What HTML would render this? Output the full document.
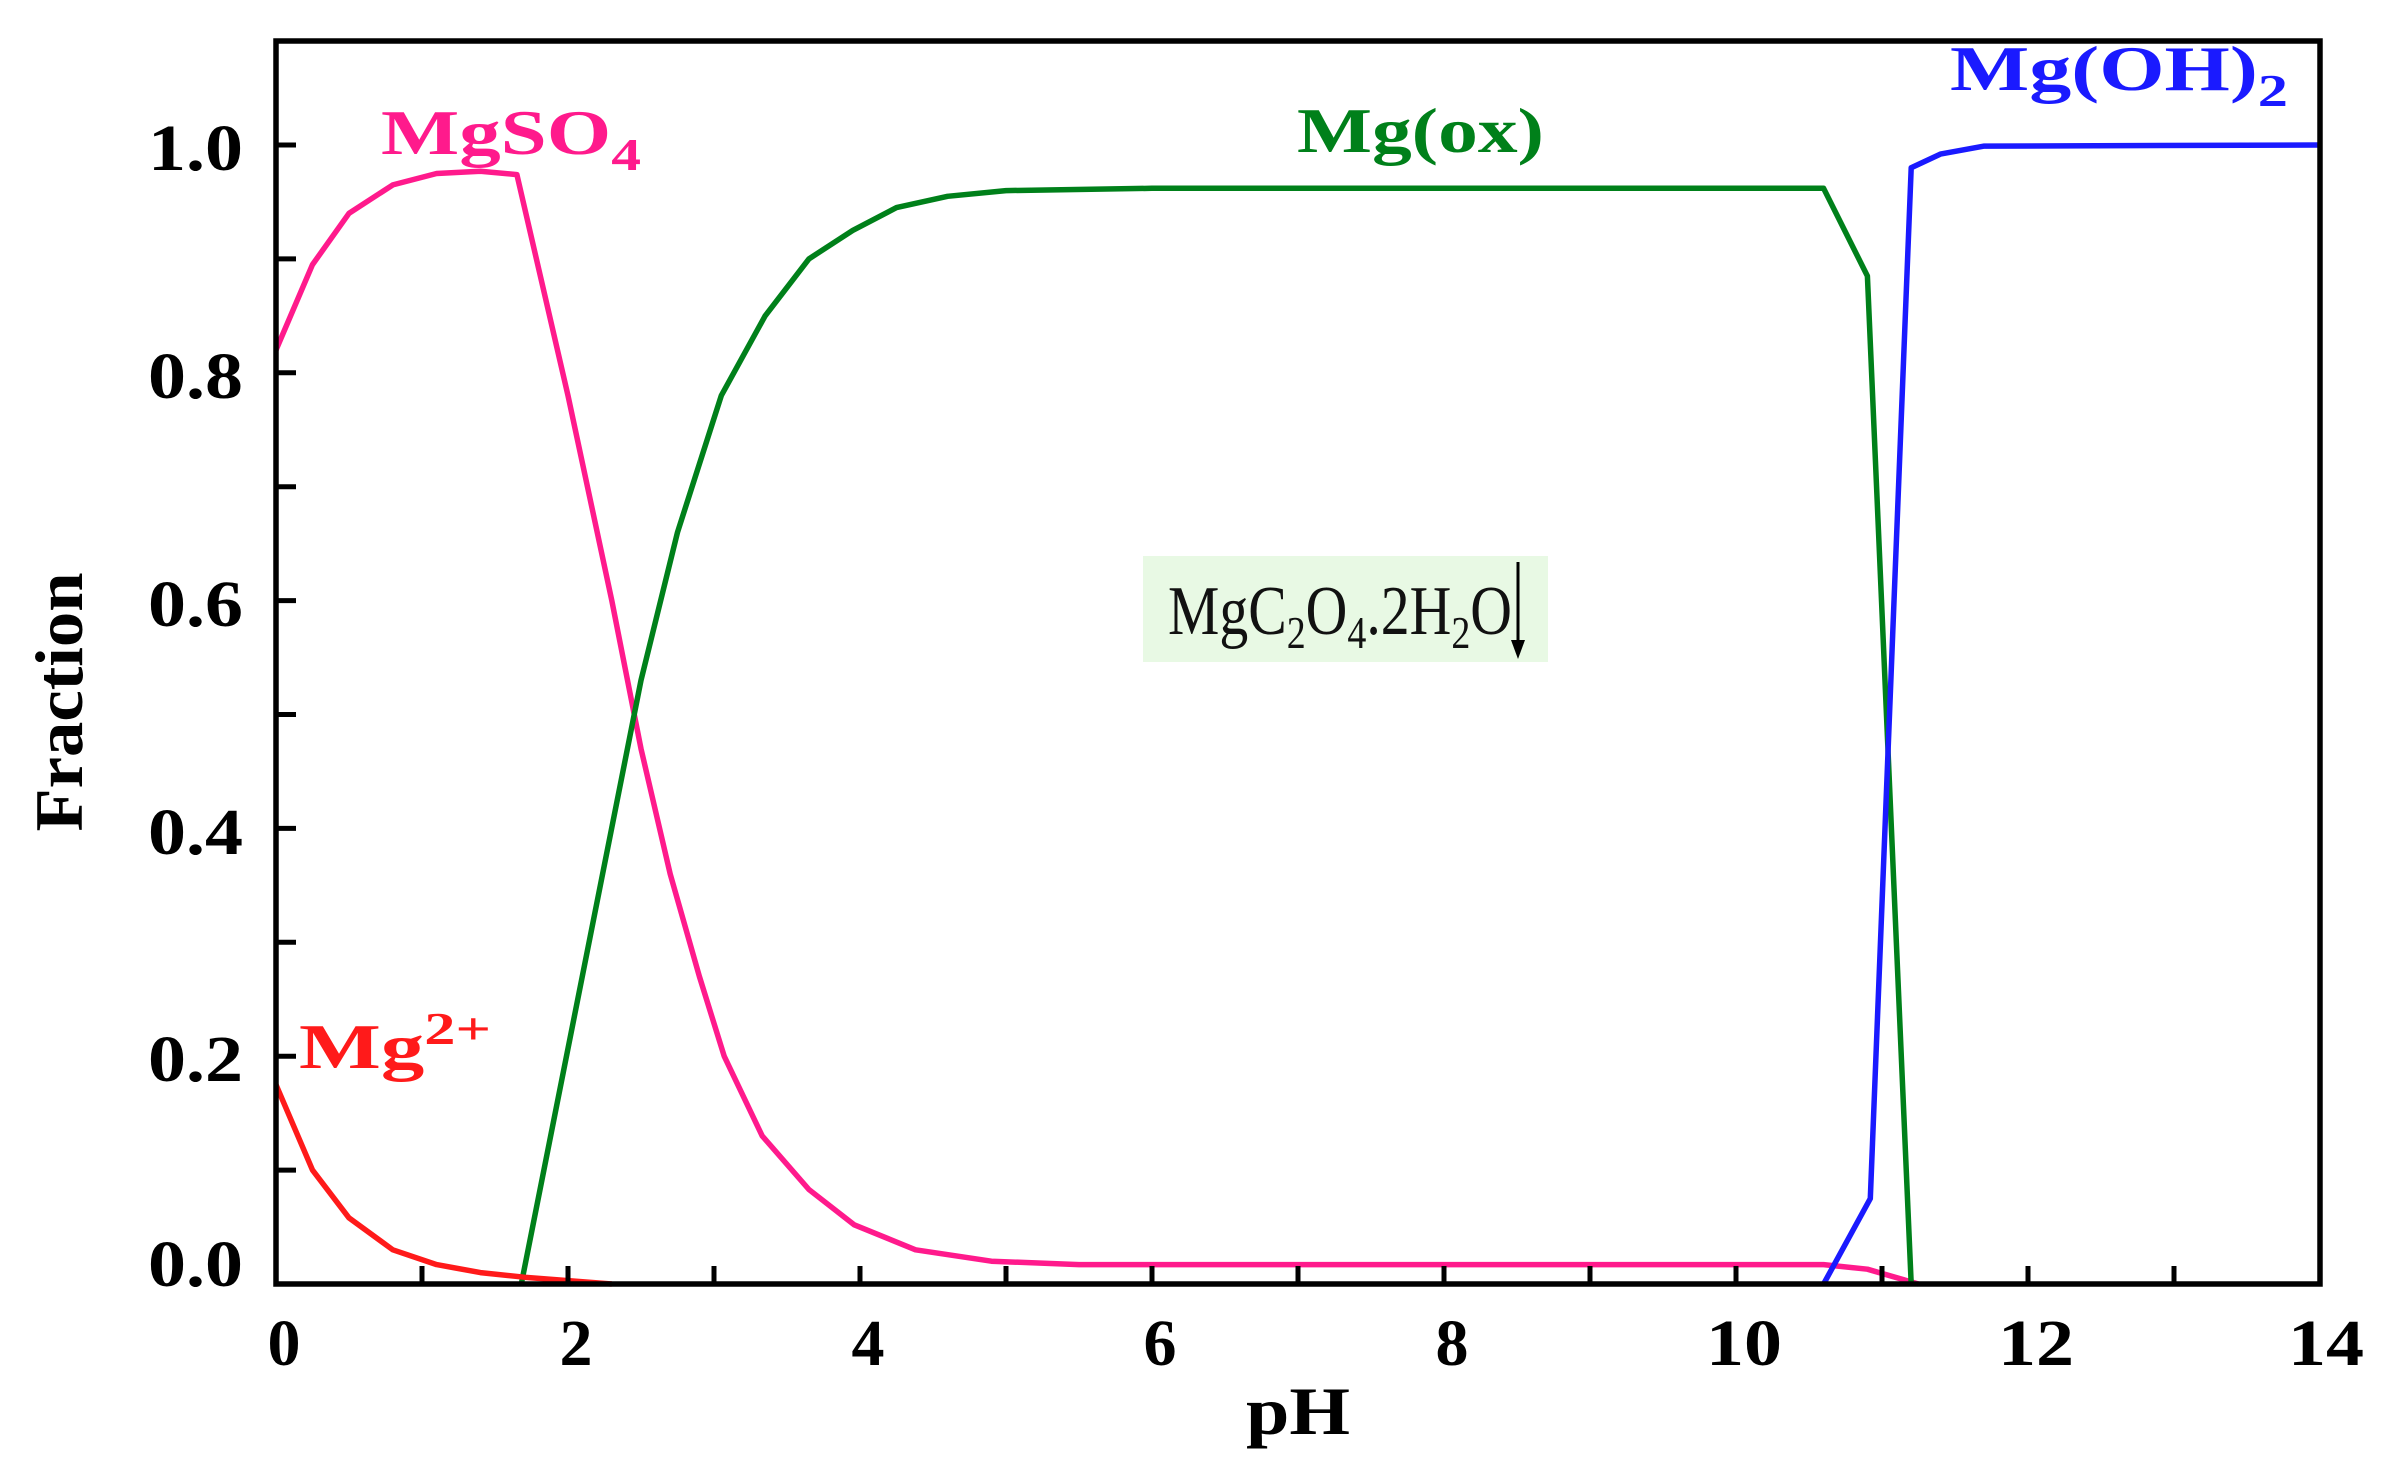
<!DOCTYPE html>
<html><head><meta charset="utf-8"><style>html,body{margin:0;padding:0;background:#fff}svg{display:block}</style></head>
<body>
<svg width="2392" height="1472" viewBox="0 0 2392 1472" xmlns="http://www.w3.org/2000/svg" font-family="'Liberation Serif', serif">
<rect width="2392" height="1472" fill="#fff"/>
<!-- box -->
<rect x="1143" y="556" width="405" height="106" fill="#e8f9e4"/>
<text x="1168" y="634" font-size="70" fill="#111" textLength="344" lengthAdjust="spacingAndGlyphs">MgC<tspan font-size="46" dy="14">2</tspan><tspan dy="-14">O</tspan><tspan font-size="46" dy="14">4</tspan><tspan dy="-14">.2H</tspan><tspan font-size="46" dy="14">2</tspan><tspan dy="-14">O</tspan></text>
<line x1="1518" y1="562" x2="1518" y2="645" stroke="#000" stroke-width="3"/>
<polygon points="1511,640 1525,640 1518,659" fill="#000"/>
<!-- curves -->
<g fill="none" stroke-width="5.5" stroke-linejoin="round">
<polyline id="so4" stroke="#ff1a8c" points=""/>
<polyline id="ox" stroke="#00801a" points=""/>
<polyline id="oh" stroke="#1a1aff" points=""/>
<polyline id="mg" stroke="#ff1a1a" points=""/>
</g>
<!-- axes -->
<rect x="276" y="41" width="2044" height="1243" fill="none" stroke="#000" stroke-width="5.5"/>
<g id="ticks" stroke="#000" stroke-width="5"></g>
<g font-weight="bold" font-size="66" fill="#000">
<text x="148" y="170" textLength="95" lengthAdjust="spacingAndGlyphs">1.0</text>
<text x="148" y="398" textLength="95" lengthAdjust="spacingAndGlyphs">0.8</text>
<text x="148" y="626" textLength="95" lengthAdjust="spacingAndGlyphs">0.6</text>
<text x="148" y="854" textLength="95" lengthAdjust="spacingAndGlyphs">0.4</text>
<text x="148" y="1081" textLength="95" lengthAdjust="spacingAndGlyphs">0.2</text>
<text x="148" y="1286" textLength="95" lengthAdjust="spacingAndGlyphs">0.0</text>
</g>
<g font-weight="bold" font-size="66" fill="#000" text-anchor="middle">
<text x="284" y="1365">0</text>
<text x="576" y="1365">2</text>
<text x="868" y="1365">4</text>
<text x="1160" y="1365">6</text>
<text x="1452" y="1365">8</text>
<text x="1744" y="1365" textLength="76" lengthAdjust="spacingAndGlyphs">10</text>
<text x="2036" y="1365" textLength="76" lengthAdjust="spacingAndGlyphs">12</text>
<text x="2326" y="1365" textLength="76" lengthAdjust="spacingAndGlyphs">14</text>
<text x="1298" y="1434" font-size="68" textLength="104" lengthAdjust="spacingAndGlyphs">pH</text>
<text transform="translate(82,702) rotate(-90)" font-size="68" textLength="259" lengthAdjust="spacingAndGlyphs">Fraction</text>
</g>
<g font-weight="bold" font-size="64">
<text x="381" y="154" fill="#ff1a8c" textLength="260" lengthAdjust="spacingAndGlyphs">MgSO<tspan font-size="46" dy="16">4</tspan></text>
<text x="1297" y="152" fill="#00801a" textLength="247" lengthAdjust="spacingAndGlyphs">Mg(ox)</text>
<text x="1950" y="90" fill="#1a1aff" textLength="338" lengthAdjust="spacingAndGlyphs">Mg(OH)<tspan font-size="46" dy="16">2</tspan></text>
<text x="299" y="1068" fill="#ff1a1a" textLength="192" lengthAdjust="spacingAndGlyphs">Mg<tspan font-size="46" dy="-24">2+</tspan></text>
</g>
</svg>
<script>
var X=p=>276+p*146,Y=f=>1284-f*1139;
function pts(a){return a.map(d=>X(d[0]).toFixed(1)+","+Y(d[1]).toFixed(1)).join(" ");}
document.getElementById("so4").setAttribute("points",pts([[0,0.82],[0.25,0.895],[0.5,0.94],[0.8,0.965],[1.1,0.975],[1.4,0.977],[1.65,0.974],[2.0,0.78],[2.3,0.6],[2.5,0.47],[2.7,0.36],[2.9,0.27],[3.07,0.2],[3.33,0.13],[3.65,0.083],[3.96,0.052],[4.38,0.03],[4.9,0.02],[5.5,0.017],[10.6,0.017],[10.9,0.013],[11.25,0]]));
document.getElementById("ox").setAttribute("points",pts([[1.68,0],[2.5,0.53],[2.75,0.66],[3.05,0.78],[3.35,0.85],[3.65,0.9],[3.95,0.925],[4.25,0.945],[4.6,0.955],[5,0.96],[6,0.962],[10.6,0.962],[10.9,0.885],[11.2,0]]));
document.getElementById("oh").setAttribute("points",pts([[10.6,0],[10.92,0.075],[11.2,0.98],[11.4,0.992],[11.7,0.999],[14,1.0]]));
document.getElementById("mg").setAttribute("points",pts([[0,0.175],[0.25,0.1],[0.5,0.058],[0.8,0.03],[1.1,0.017],[1.4,0.01],[1.7,0.006],[2.0,0.003],[2.3,0]]));
var g=document.getElementById("ticks"),s="";
for(var i=1;i<14;i++){var x=X(i);s+='<line x1="'+x+'" y1="1284" x2="'+x+'" y2="1266"/>';}
for(var j=1;j<=10;j++){var y=Y(j/10);s+='<line x1="276" y1="'+y+'" x2="296" y2="'+y+'"/>';}
g.innerHTML=s;
</script>
</body></html>
